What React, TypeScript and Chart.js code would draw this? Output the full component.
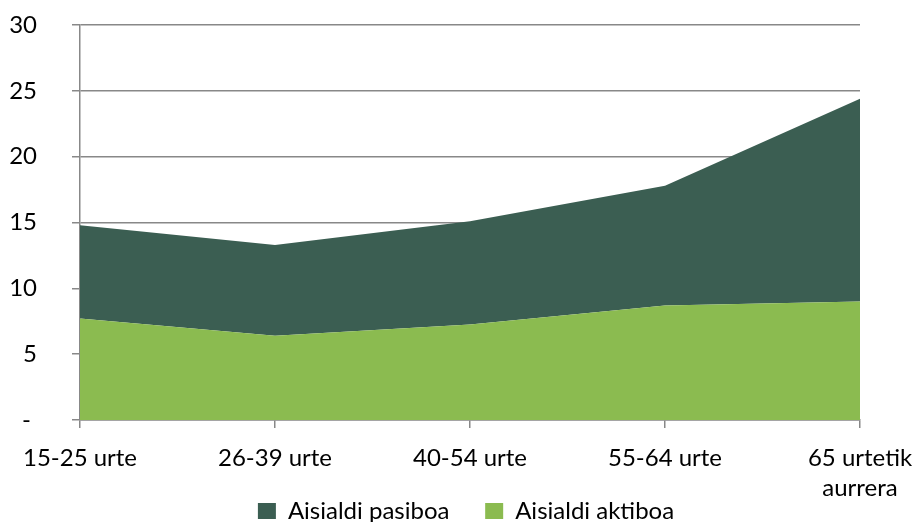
import React, { useEffect, useRef } from "react";
import { Chart, registerables } from "chart.js";

Chart.register(...registerables);

const categories: (string | string[])[] = [
  "15-25 urte",
  "26-39 urte",
  "40-54 urte",
  "55-64 urte",
  ["65 urtetik", "aurrera"],
];
const aktiboa = [7.7, 6.4, 7.25, 8.7, 9.0];
const pasiboa = [7.1, 6.9, 7.85, 9.1, 15.4];
const yTicks = [0, 5, 10, 15, 20, 25, 30];

const FONT = "Lato, 'Noto Sans', sans-serif";

const legendShift = {
  id: "legendShift",
  afterLayout(chart: any) {
    const lg = chart.legend;
    if (!lg) return;
    const h = lg.height;
    lg.top = 494;
    lg.bottom = 494 + h;
    lg.left += 36;
    lg.right += 36;
  },
};

export default function App() {
  const ref = useRef<HTMLCanvasElement | null>(null);
  useEffect(() => {
    if (!ref.current) return;
    const chart = new Chart(ref.current, {
      type: "line",
      plugins: [legendShift],
      data: {
        labels: categories,
        datasets: [
          {
            label: "Aisialdi aktiboa",
            data: aktiboa,
            backgroundColor: "#8BBB50",
            borderColor: "#8BBB50",
            borderWidth: 0,
            pointRadius: 0,
            fill: "origin",
            tension: 0,
          },
          {
            label: "Aisialdi pasiboa     ",
            data: pasiboa,
            backgroundColor: "#3B5E52",
            borderColor: "#3B5E52",
            borderWidth: 0,
            pointRadius: 0,
            fill: "-1",
            tension: 0,
          },
        ],
      },
      options: {
        animation: false,
        responsive: false,
        layout: { padding: { top: 25, right: 57, left: 0, bottom: 0 } },
        plugins: {
          tooltip: { enabled: false },
          legend: {
            position: "bottom",
            reverse: true,
            labels: {
              boxWidth: 18,
              boxHeight: 16,
              padding: 5,
              color: "#000",
              font: { family: FONT, size: 24 },
            },
          },
        },
        scales: {
          x: {
            offset: false,
            afterFit: (s: any) => {
              s.paddingLeft = 0;
              s.paddingRight = 0;
            },
            grid: {
              display: true,
              drawOnChartArea: false,
              drawTicks: true,
              tickLength: 8,
              color: "#888888",
              lineWidth: 1.5,
            },
            border: { display: true, color: "#888888", width: 1.5 },
            ticks: {
              color: "#000",
              font: { family: FONT, size: 24, lineHeight: 1.25 },
              padding: 15,
              maxRotation: 0,
              autoSkip: false,
            },
          },
          y: {
            stacked: true,
            min: 0,
            max: 30,
            afterFit: (s: any) => {
              s.width = 80;
              s.paddingTop = 0;
              s.paddingBottom = 0;
            },
            afterBuildTicks: (s: any) => {
              s.ticks = yTicks.map((v) => ({ value: v }));
            },
            grid: {
              color: "#888888",
              lineWidth: 1.5,
              drawTicks: true,
              tickLength: 8,
            },
            border: { display: true, color: "#888888", width: 1.5 },
            ticks: {
              color: "#000",
              font: { family: FONT, size: 24 },
              padding: 35,
              callback: (v: any) => (Number(v) === 0 ? "- " : String(v)),
            },
          },
        },
      },
    });
    return () => chart.destroy();
  }, []);
  return (
    <div
      style={{
        position: "fixed",
        left: 0,
        top: 0,
        width: 917,
        height: 522,
        overflow: "hidden",
        background: "#fff",
      }}
    >
      <canvas ref={ref} width={917} height={557} style={{ display: "block" }} />
    </div>
  );
}
